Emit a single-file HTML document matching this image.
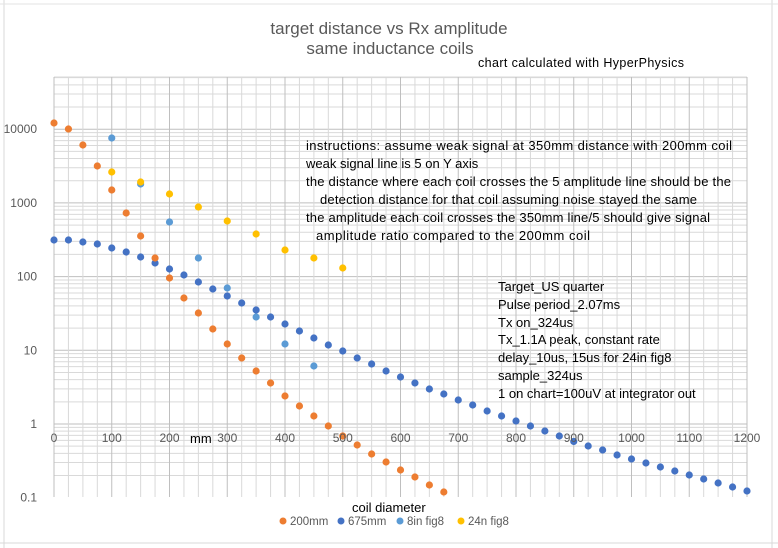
<!DOCTYPE html>
<html><head><meta charset="utf-8"><style>
html,body{margin:0;padding:0;background:#fff;}
svg{display:block;font-family:"Liberation Sans",sans-serif;}
</style></head><body>
<svg id="s" width="778" height="548" viewBox="0 0 778 548" xmlns="http://www.w3.org/2000/svg">
<rect width="778" height="548" fill="#fff"/>
<g id="grid"></g>
<g id="pts"></g>
<g font-size="12" fill="#595959" id="lbl"></g>
<text x="389" y="34" font-size="17" fill="#595959" text-anchor="middle">target distance vs Rx amplitude</text>
<text x="390" y="54" font-size="17" fill="#595959" text-anchor="middle">same inductance coils</text>
<text x="478" y="67" font-size="12.5" fill="#000" textLength="206">chart calculated with HyperPhysics</text>
<g font-size="13" fill="#000">
<text x="306" y="150" textLength="426">instructions: assume weak signal at 350mm distance with 200mm coil</text>
<text x="306" y="168">weak signal line is 5 on Y axis</text>
<text x="306" y="186" textLength="425">the distance where each coil crosses the 5 amplitude line should be the</text>
<text x="320" y="204" textLength="377">detection distance for that coil assuming noise stayed the same</text>
<text x="306" y="222" textLength="404">the amplitude each coil crosses the 350mm line/5 should give signal</text>
<text x="316" y="240" textLength="274">amplitude ratio compared to the 200mm coil</text>
<text x="498" y="291">Target_US quarter</text>
<text x="498" y="309">Pulse period_2.07ms</text>
<text x="498" y="327">Tx on_324us</text>
<text x="498" y="344">Tx_1.1A peak, constant rate</text>
<text x="498" y="362">delay_10us,  15us for 24in fig8</text>
<text x="498" y="380">sample_324us</text>
<text x="498" y="398">1 on chart=100uV at integrator out</text>
<text x="190" y="443">mm</text>
<text x="352" y="512">coil diameter</text>
</g>
<g font-size="11.5" fill="#595959">
<circle cx="283" cy="521" r="3.5" fill="#ED7D31"/><text x="290" y="525">200mm</text>
<circle cx="341" cy="521" r="3.5" fill="#4472C4"/><text x="348" y="525">675mm</text>
<circle cx="400" cy="521" r="3.5" fill="#5B9BD5"/><text x="407" y="525">8in fig8</text>
<circle cx="461" cy="521" r="3.5" fill="#FFC000"/><text x="468" y="525">24n fig8</text>
</g>
</svg>
<script>
var NS="http://www.w3.org/2000/svg";
function el(p,t,a,txt){var e=document.createElementNS(NS,t);for(var k in a)e.setAttribute(k,a[k]);if(txt!==undefined)e.textContent=txt;p.appendChild(e);return e;}
var g=document.getElementById('grid'),P=document.getElementById('pts'),L=document.getElementById('lbl');
var L0=54,R=747,T=77,B=497;
function X(mm){return L0+mm*(R-L0)/1200;}
function Y(v){return 424-73.7*Math.log10(v);}
// spreadsheet cell lines
el(g,'line',{x1:4,y1:0,x2:4,y2:548,stroke:'#d9d9d9'});
el(g,'line',{x1:772,y1:0,x2:772,y2:548,stroke:'#d9d9d9'});
el(g,'line',{x1:0,y1:4,x2:778,y2:4,stroke:'#e3e3e3'});
el(g,'line',{x1:0,y1:543,x2:778,y2:543,stroke:'#d9d9d9'});
for(var d=-1;d<=4;d++)for(var m=1;m<=9;m++){var y=Y(m*Math.pow(10,d));if(y<T-0.5||y>B+0.5)continue;
el(g,'line',{x1:L0,y1:y,x2:R,y2:y,stroke:m==1?'#bfbfbf':'#d9d9d9','stroke-width':1});}
el(g,'line',{x1:L0,y1:T,x2:R,y2:T,stroke:'#d9d9d9'});
for(var mm=0;mm<=1200;mm+=25){var x=X(mm);el(g,'line',{x1:x,y1:T,x2:x,y2:B,stroke:mm%100==0?'#bfbfbf':'#d9d9d9'});}
var yl=[[10000,'10000'],[1000,'1000'],[100,'100'],[10,'10'],[1,'1'],[0.1,'0.1']];
yl.forEach(function(a){el(L,'text',{x:37,y:Y(a[0])+4,'text-anchor':'end'},a[1]);});
for(var mm=0;mm<=1200;mm+=100){el(L,'text',{x:X(mm),y:442,'text-anchor':'middle'},''+mm);}
var blue=[240,240,242,244,248,252,257,263,269,275,282,289,296,303,310,317,324,331,338,345,351,358,364,371,377,383,389,394,400,405,411,416,421,426,431,436,441.5,446,450,455,459,463,467,471,475,479,483,487,491];
var orange=[123,129,145,166,190,213,236,258,278,298,313,329,344,358,371,383,396,406,416,426,436,445,454,462,470,477,485,492];
var lb=[[100,138],[150,184],[200,222],[250,258],[300,288],[350,317],[400,344],[450,366]];
var yel=[[100,172],[150,182],[200,194],[250,207],[300,221],[350,234],[400,250],[450,258],[500,268]];
blue.forEach(function(y,i){el(P,'circle',{cx:X(i*25),cy:y,r:3.6,fill:'#4472C4'});});
orange.forEach(function(y,i){el(P,'circle',{cx:X(i*25),cy:y,r:3.6,fill:'#ED7D31'});});
lb.forEach(function(a){el(P,'circle',{cx:X(a[0]),cy:a[1],r:3.6,fill:'#5B9BD5'});});
yel.forEach(function(a){el(P,'circle',{cx:X(a[0]),cy:a[1],r:3.6,fill:'#FFC000'});});
</script>
</body></html>
